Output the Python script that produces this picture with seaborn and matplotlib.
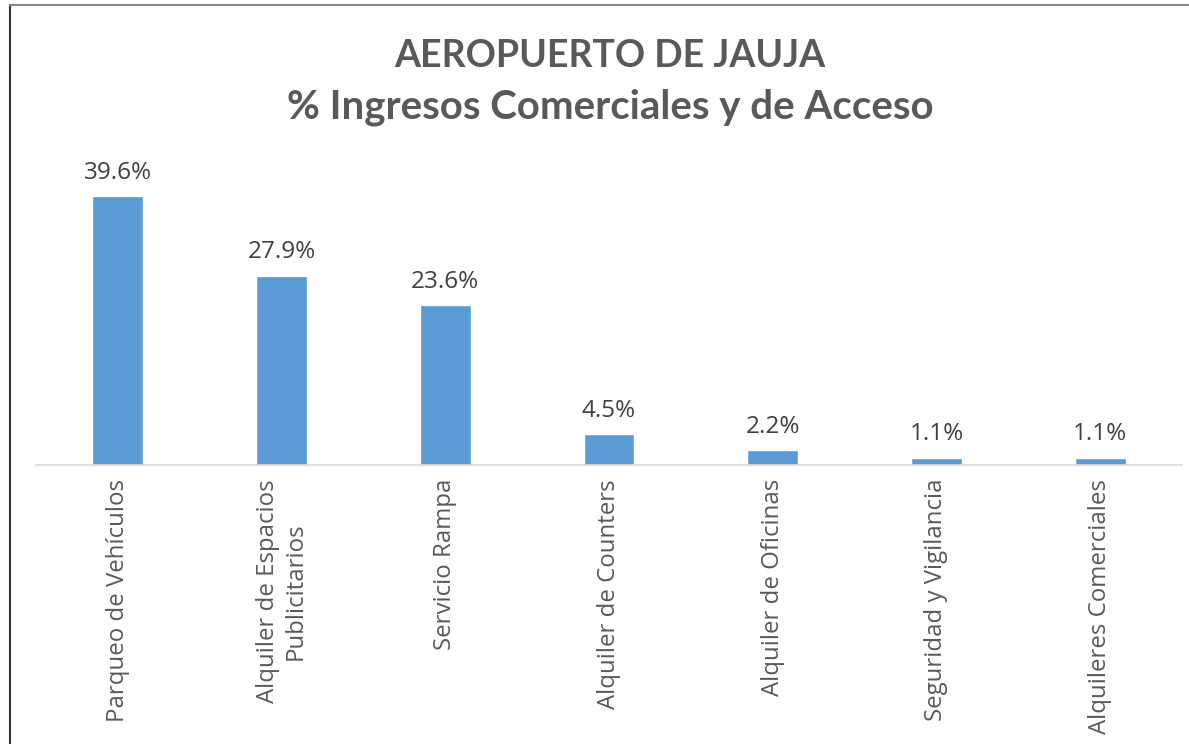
import numpy as np
import pandas as pd
import matplotlib
matplotlib.use('Agg')
import matplotlib.pyplot as plt
from matplotlib.lines import Line2D
import seaborn as sns

# Datos del gráfico
categorias = [
    'Parqueo de Vehículos',
    'Alquiler de Espacios\nPublicitarios',
    'Servicio Rampa',
    'Alquiler de Counters',
    'Alquiler de Oficinas',
    'Seguridad y Vigilancia',
    'Alquileres Comerciales',
]
porcentajes = [39.6, 27.9, 23.6, 4.5, 2.2, 1.1, 1.1]
titulo_1 = 'AEROPUERTO DE JAUJA'
titulo_2 = '% Ingresos Comerciales y de Acceso'

sns.set_theme(style='white')
plt.rcParams['font.family'] = ['Open Sans', 'DejaVu Sans']

df = pd.DataFrame({'categoria': categorias, 'pct': porcentajes})

fig = plt.figure(figsize=(11.89, 7.44), dpi=100)
ax = fig.add_axes([36 / 1189, 1 - 465 / 744, 1146 / 1189, 325 / 744])

sns.barplot(data=df, x='categoria', y='pct', color='#5B9BD5',
            saturation=1, width=0.31, ax=ax)

ax.set_ylim(0, 47.9)
ax.set_xlim(-0.5, len(categorias) - 0.5)

# Etiquetas de datos
for i, v in enumerate(porcentajes):
    ax.annotate(f'{v:.1f}%', (i, v), xytext=(0, 12.5), textcoords='offset points',
                ha='center', va='baseline', fontsize=17.5, color='#404040')

# Eje X
for s in ['top', 'right', 'left']:
    ax.spines[s].set_visible(False)
ax.spines['bottom'].set_color('#D9D9D9')
ax.spines['bottom'].set_linewidth(1.2)
ax.set_yticks([])
ax.set_xlabel('')
ax.set_ylabel('')
ax.set_xticks(np.arange(-0.5, len(categorias)), minor=True)
ax.tick_params(axis='x', which='minor', length=6, color='#D9D9D9', width=1.2)
ax.tick_params(axis='x', which='major', length=0, pad=10)
ax.set_xticks(range(len(categorias)))
ax.set_xticklabels(categorias, rotation=90, ha='center', va='top',
                   multialignment='center', fontsize=17.3, color='#595959')

# Título en dos líneas
fig.text(0.513, 1 - 67 / 744, titulo_1, ha='center', va='baseline', fontsize=27,
         fontweight='bold', color='#595959', family=['Lato', 'DejaVu Sans'])
fig.text(0.513, 1 - 119 / 744, titulo_2, ha='center', va='baseline', fontsize=29,
         fontweight='bold', color='#595959', family=['Lato', 'DejaVu Sans'])

# Borde de la imagen
fig.add_artist(Line2D([10 / 1189, 10 / 1189], [0, 1 - 5 / 744],
                      transform=fig.transFigure, color='#333333', lw=1.5))
fig.add_artist(Line2D([10 / 1189, 1], [1 - 5 / 744, 1 - 5 / 744],
                      transform=fig.transFigure, color='#888888', lw=1.5))

fig.savefig('out.png', dpi=100)
